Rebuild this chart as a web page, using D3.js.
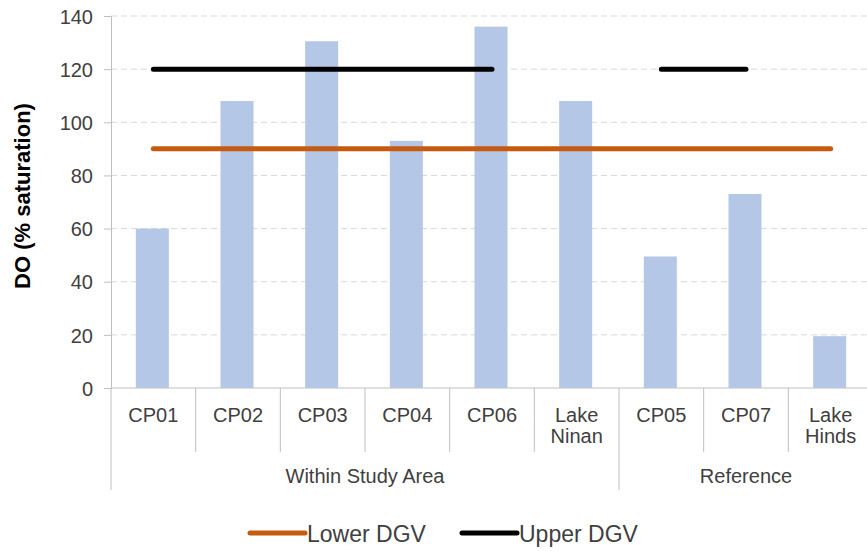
<!DOCTYPE html>
<html>
<head>
<meta charset="utf-8">
<script src="https://cdn.jsdelivr.net/npm/d3@7"></script>
<style>
html,body{margin:0;padding:0;background:#fff;overflow:hidden;}
svg{display:block;font-family:"Liberation Sans",Arial,sans-serif;}
</style>
</head>
<body>
<svg id="chart" width="867" height="551"></svg>
<script>
const categories = [["CP01"],["CP02"],["CP03"],["CP04"],["CP06"],["Lake","Ninan"],["CP05"],["CP07"],["Lake","Hinds"]];
const groups = [{name:"Within Study Area", start:0, end:5},{name:"Reference", start:6, end:8}];
const doValues = [60, 108, 130.5, 93, 136, 108, 49.5, 73, 19.5];
const lowerDGV = [90, 90, 90, 90, 90, 90, 90, 90, 90];
const upperDGV = [120, 120, 120, 120, 120, null, 120, 120, null];
const yTicks = [0, 20, 40, 60, 80, 100, 120, 140];
const seriesNames = ["Lower DGV", "Upper DGV"];

(function () {
const svg = d3.select("#chart");
const W = 867;
const mLeft = 111, mTop = 16, mBottom = 388, mRight = 873;
const textColor = "#404040";

const x = d3.scaleBand().domain(d3.range(categories.length)).range([mLeft, mRight]).paddingInner(0).paddingOuter(0);
const y = d3.scaleLinear().domain([0, 140]).range([mBottom, mTop]);

// gridlines
svg.append("g").selectAll("line").data(yTicks.filter(t => t > 0)).join("line")
  .attr("x1", mLeft).attr("x2", W).attr("y1", d => y(d)).attr("y2", d => y(d))
  .attr("stroke", "#D9D9D9").attr("stroke-width", 1).attr("stroke-dasharray", "6,4");

// y axis
const yAxis = d3.axisLeft(y).tickValues(yTicks).tickSize(7).tickPadding(11).tickFormat(d3.format("d"));
const ya = svg.append("g").attr("transform", `translate(${mLeft},0)`).call(yAxis);
ya.select(".domain").attr("stroke", "#BFBFBF");
ya.selectAll(".tick line").attr("stroke", "#BFBFBF");
ya.selectAll(".tick text").attr("fill", textColor).attr("font-size", 20).attr("font-family", "Liberation Sans, Arial, sans-serif").attr("dy", "0.36em");

// x axis baseline
svg.append("line").attr("x1", mLeft).attr("x2", W).attr("y1", mBottom).attr("y2", mBottom).attr("stroke", "#BFBFBF");

// bars
const barW = 33;
svg.append("g").selectAll("rect").data(doValues).join("rect")
  .attr("x", (d, i) => x(i) + x.bandwidth() / 2 - barW / 2 - 1)
  .attr("width", barW)
  .attr("y", d => y(d))
  .attr("height", d => y(0) - y(d))
  .attr("fill", "#B4C7E7");

// DGV lines
const line = d3.line().defined(d => d.v !== null).x(d => x(d.i) + x.bandwidth() / 2).y(d => y(d.v));
svg.append("path").datum(lowerDGV.map((v, i) => ({v, i})))
  .attr("d", line).attr("fill", "none").attr("stroke", "#C55A11").attr("stroke-width", 5).attr("stroke-linecap", "round");
svg.append("path").datum(upperDGV.map((v, i) => ({v, i})))
  .attr("d", line).attr("fill", "none").attr("stroke", "#000").attr("stroke-width", 5).attr("stroke-linecap", "round");

// category separators
const groupBounds = new Set();
groups.forEach(g => { groupBounds.add(g.start); groupBounds.add(g.end + 1); });
svg.append("g").selectAll("line").data(d3.range(categories.length + 1)).join("line")
  .attr("x1", i => x.step() * i + mLeft).attr("x2", i => x.step() * i + mLeft)
  .attr("y1", mBottom).attr("y2", i => groupBounds.has(i) ? 490 : 452)
  .attr("stroke", "#BFBFBF").attr("stroke-width", 1);

// category labels
const cl = svg.append("g").selectAll("text").data(categories).join("text")
  .attr("x", (d, i) => x(i) + x.bandwidth() / 2)
  .attr("y", 422)
  .attr("text-anchor", "middle").attr("font-size", 20).attr("fill", textColor);
cl.selectAll("tspan").data(d => d).join("tspan")
  .attr("x", function() { return d3.select(this.parentNode).attr("x"); })
  .attr("dy", (d, j) => j === 0 ? 0 : 21)
  .text(d => d);

// group labels
svg.append("g").selectAll("text").data(groups).join("text")
  .attr("x", g => (x(g.start) + x(g.end) + x.bandwidth()) / 2)
  .attr("y", 483)
  .attr("text-anchor", "middle").attr("font-size", 20).attr("fill", textColor)
  .text(g => g.name);

// y title
svg.append("text")
  .attr("transform", `translate(30,${(mTop + mBottom) / 2 - 6}) rotate(-90)`)
  .attr("text-anchor", "middle").attr("font-size", 22).attr("font-weight", "bold").attr("fill", "#000")
  .text("DO (% saturation)");

// legend
const legendColors = ["#C55A11", "#000"];
const legendX = [250, 462];
const lg = svg.append("g").selectAll("g").data(seriesNames).join("g")
  .attr("transform", (d, i) => `translate(${legendX[i]},533)`);
lg.append("line").attr("x1", 0).attr("x2", 55).attr("y1", 0).attr("y2", 0)
  .attr("stroke", (d, i) => legendColors[i]).attr("stroke-width", 5).attr("stroke-linecap", "round");
lg.append("text").attr("x", 57).attr("y", 9).attr("font-size", 23).attr("fill", textColor).text(d => d);
})();
</script>
</body>
</html>
